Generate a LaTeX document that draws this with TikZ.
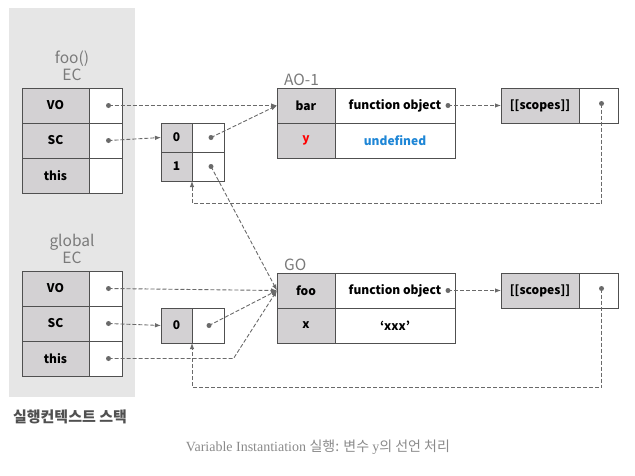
\documentclass[tikz,border=0pt]{standalone}
\usepackage{fontspec}
\setmainfont{Noto Sans CJK KR}
\newfontfamily\capfont{Liberation Serif}
\usetikzlibrary{positioning,arrows.meta,calc}

\definecolor{panelgrey}{HTML}{E6E6E6}
\definecolor{keygrey}{HTML}{D3D1D3}
\definecolor{linegrey}{HTML}{505050}
\definecolor{arrgrey}{HTML}{6A6A6A}
\definecolor{labgrey}{HTML}{7A7A7A}
\definecolor{capgrey}{HTML}{8A8A8A}
\definecolor{undefblue}{HTML}{1E86D6}

\begin{document}
\begin{tikzpicture}[
    x=1pt, y=-1pt,
    font=\fontsize{12}{14}\selectfont\bfseries,
    cell/.style={draw=linegrey, line width=0.9pt, inner sep=0pt, outer sep=0pt,
                 minimum height=35pt},
    key/.style={cell, fill=keygrey},
    val/.style={cell, fill=white},
    eckey/.style={key, minimum width=67pt},
    ecval/.style={val, minimum width=33pt},
    lkey/.style={key, minimum width=31pt},
    lval/.style={val, minimum width=32pt},
    okey/.style={key, minimum width=58pt},
    oval/.style={val, minimum width=120pt},
    skey/.style={key, minimum width=78pt},
    sval/.style={val, minimum width=39pt},
    dot/.style={circle, fill=arrgrey, inner sep=0pt, minimum size=5pt},
    eclabel/.style={align=center, text=labgrey, font=\fontsize{15.5}{17}\selectfont},
    objlabel/.style={text=labgrey, inner sep=1pt, font=\fontsize{15.5}{17}\selectfont},
    arr/.style={-{Latex[length=6pt,width=4.5pt]}, draw=arrgrey,
                line width=0.9pt, dash pattern=on 4pt off 2pt}
]
\useasboundingbox (0,0) rectangle (635,475);
\fill[panelgrey] (9,8) rectangle (135,397);

% foo() EC
\node[eclabel] (fooec) at (72,65.5) {foo()\\EC};
\node[eckey] (fvo) at (55.5,105.5) {VO};
\node[ecval, right=0pt of fvo] (fvov) {};
\node[eckey, below=0pt of fvo] (fsc) {SC};
\node[ecval, right=0pt of fsc] (fscv) {};
\node[eckey, below=0pt of fsc] (fthis) {this};
\node[ecval, right=0pt of fthis] (fthisv) {};
\node[dot] (fvod) at ([xshift=3pt]fvov.center) {};
\node[dot] (fscd) at ([xshift=3pt]fscv.center) {};

% scope chain of foo()
\node[lkey, minimum height=29pt] (fl0) at (176.5,137.5) {0};
\node[lval, minimum height=29pt, right=0pt of fl0] (fl0v) {};
\node[lkey, minimum height=29pt, below=0pt of fl0] (fl1) {1};
\node[lval, minimum height=29pt, right=0pt of fl1] (fl1v) {};
\node[dot] (fl0d) at ([xshift=3pt]fl0v.center) {};
\node[dot] (fl1d) at ([xshift=3pt]fl1v.center) {};

% AO-1
\node[okey] (bar) at (306,105.5) {bar};
\node[oval, right=0pt of bar] (barv) {function object\hspace{7pt}};
\node[okey, below=0pt of bar] (y) {\textcolor{red}{y}};
\node[oval, right=0pt of y] (yv) {\textcolor{undefblue}{undefined}};
\node[objlabel, above right=1pt and 6pt of bar.north west, anchor=south west] (ao) {AO-1};
\node[dot] (bard) at ([xshift=-7pt]barv.east) {};
\node[skey] (asc) at (540,105.5) {[[scopes]]};
\node[sval, right=0pt of asc] (ascv) {};
\node[dot] (ascd) at ([xshift=3pt,yshift=2pt]ascv.center) {};

% global EC
\node[eclabel] (globec) at (72,248.5) {global\\EC};
\node[eckey] (gvo) at (55.5,288.5) {VO};
\node[ecval, right=0pt of gvo] (gvov) {};
\node[eckey, below=0pt of gvo] (gsc) {SC};
\node[ecval, right=0pt of gsc] (gscv) {};
\node[eckey, below=0pt of gsc] (gthis) {this};
\node[ecval, right=0pt of gthis] (gthisv) {};
\node[dot] (gvod) at ([xshift=3pt]gvov.center) {};
\node[dot] (gscd) at ([xshift=3pt]gscv.center) {};
\node[dot] (gthisd) at ([xshift=3pt]gthisv.center) {};

% scope chain of global
\node[lkey] (gl0) at (176.5,325.5) {0};
\node[lval, right=0pt of gl0] (gl0v) {};
\node[dot] (gl0d) at ([xshift=1pt]gl0v.center) {};

% GO
\node[okey] (foo) at (306,290.5) {foo};
\node[oval, right=0pt of foo] (foov) {function object\hspace{7pt}};
\node[okey, below=0pt of foo] (x) {x};
\node[oval, right=0pt of x] (xv) {`xxx'};
\node[objlabel, above right=1pt and 6pt of foo.north west, anchor=south west] (go) {GO};
\node[dot] (food) at ([xshift=-7pt]foov.east) {};
\node[skey] (gsco) at (540,290.5) {[[scopes]]};
\node[sval, right=0pt of gsco] (gscov) {};
\node[dot] (gscod) at ([xshift=3pt,yshift=2pt]gscov.center) {};

\node[text=linegrey, font=\fontsize{15}{17}\selectfont\bfseries] (stack) at (70,417) {실행컨텍스트 스택};
\node[text=capgrey, font=\fontsize{14}{16}\selectfont] (caption) at (318,447)
     {\capfont Variable Instantiation \normalfont 실행: 변수 \capfont y\normalfont 의 선언 처리};

\draw[arr] (fvod.center) -- (bar.west);
\draw[arr] (fscd.center) -- (fl0.west);
\draw[arr] (fl0d.center) -- (bar.west);
\draw[arr] (fl1d.center) -- (foo.west);
\draw[arr] (bard.center) -- (asc.west);
\draw[arr] (ascd.center) -- ++(0,100) -| (fl1.south east);
\draw[arr] (gvod.center) -- (foo.west);
\draw[arr] (gscd.center) -- (gl0.west);
\draw[arr] (gl0d.center) -- (foo.west);
\draw[arr] (gthisd.center) -- ++(125,0) -- (foo.west);
\draw[arr] (food.center) -- (gsco.west);
\draw[arr] (gscod.center) -- ++(0,99) -| (gl0.south east);
\end{tikzpicture}
\end{document}
